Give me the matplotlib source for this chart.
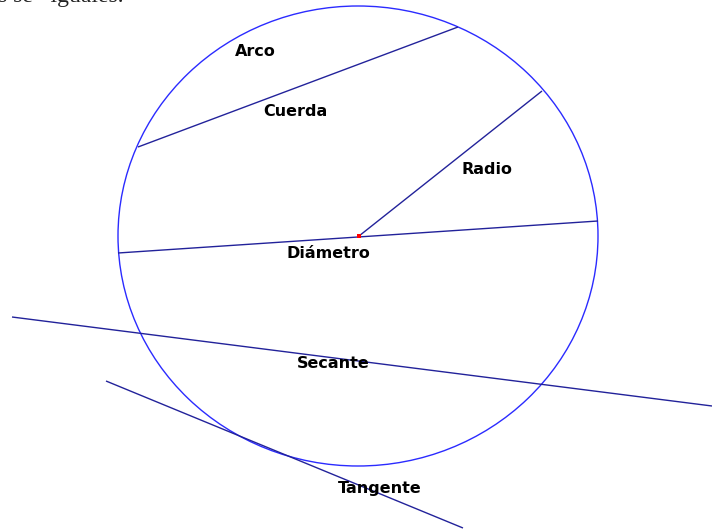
import matplotlib
matplotlib.use("Agg")
import matplotlib.pyplot as plt
from matplotlib.patches import Ellipse

# Geometry (pixel coordinates, y downward)
circle_center = (358, 236)
circle_size = (480, 460)
chord = ([138, 458], [147, 27])
radius = ([359, 542], [236, 91])
diameter = ([118, 598], [253, 221])
secant = ([12, 712], [317, 406])
tangent = ([106, 463], [381, 528])
labels = ["Arco", "Cuerda", "Radio", "Diámetro", "Secante", "Tangente"]
label_x = [255, 295, 487, 328, 333, 380]
label_y = [52, 112, 170, 254, 364, 489]
top_text = "s se   iguales."

fig = plt.figure(figsize=(7.12, 5.31), dpi=100)
ax = fig.add_axes([0, 0, 1, 1])
ax.set_xlim(0, 712)
ax.set_ylim(531, 0)
ax.axis("off")

circle_color = "#2b2bff"
line_color = "#22229a"

ax.add_patch(Ellipse(circle_center, circle_size[0], circle_size[1],
                     fill=False, edgecolor=circle_color, lw=1.0))
for seg in (chord, radius, diameter, secant, tangent):
    ax.plot(seg[0], seg[1], color=line_color, lw=1.0, solid_capstyle="butt")

ax.plot([radius[0][0]], [radius[1][0]], marker="s", color="red", ms=3, mew=0)

for t, x, y in zip(labels, label_x, label_y):
    ax.text(x, y, t, ha="center", va="center", fontsize=11.5,
            fontweight="bold", family="DejaVu Sans", color="black")

ax.text(-2, 2, top_text, ha="left", va="baseline", fontsize=17,
        family="Liberation Serif", color="#222222")

fig.savefig("out.png", dpi=100)
